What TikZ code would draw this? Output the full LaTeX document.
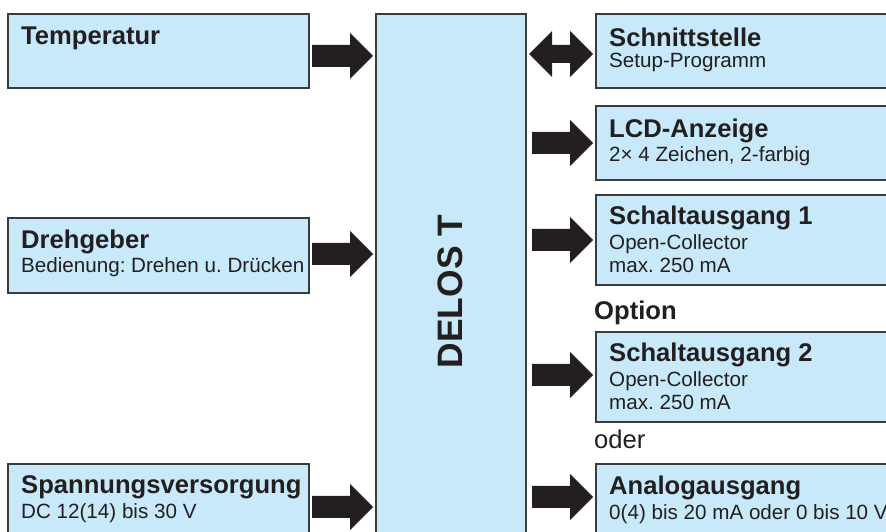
\documentclass[tikz,border=0pt]{standalone}
\usepackage{fontspec}
\setmainfont{Liberation Sans}
\usetikzlibrary{positioning}

\definecolor{boxfill}{RGB}{199,233,249}
\definecolor{boxline}{RGB}{60,60,60}
\definecolor{inkdark}{RGB}{35,31,32}

\tikzset{
  unitbox/.style={draw=boxline,fill=boxfill,line width=1.2bp,inner sep=0pt,outer sep=0pt},
  boxtitle/.style={anchor=base west,inner sep=0pt,text=inkdark,font=\bfseries\fontsize{25.7}{29}\selectfont},
  boxsub/.style={anchor=base west,inner sep=0pt,text=inkdark,font=\fontsize{20.7}{24}\selectfont},
  blockarrow/.style={fill=inkdark},
}

% fat block arrow from #1 to tip #2
\newcommand{\fatarrow}[2]{%
  \fill[blockarrow] ([yshift=11bp]#1) -- ([shift={(-23bp,11bp)}]#2) -- ([shift={(-23bp,23bp)}]#2) -- (#2)
    -- ([shift={(-23bp,-23bp)}]#2) -- ([shift={(-23bp,-11bp)}]#2) -- ([yshift=-11bp]#1) -- cycle;}
% fat block arrow with tips at #1 and #2
\newcommand{\fatdblarrow}[2]{%
  \fill[blockarrow] (#1) -- ([shift={(23bp,23bp)}]#1) -- ([shift={(23bp,9bp)}]#1) -- ([shift={(-23bp,9bp)}]#2)
    -- ([shift={(-23bp,23bp)}]#2) -- (#2) -- ([shift={(-23bp,-23bp)}]#2) -- ([shift={(-23bp,-9bp)}]#2)
    -- ([shift={(23bp,-9bp)}]#1) -- ([shift={(23bp,-23bp)}]#1) -- cycle;}

\begin{document}
\frenchspacing
\begin{tikzpicture}
\useasboundingbox (0bp,0bp) rectangle (886bp,532bp);
\clip (0bp,0bp) rectangle (886bp,532bp);
%% boxes
\node (temp) at (158.5bp,481bp) [unitbox,minimum width=301bp,minimum height=74bp] {};
  \node (dreh) at (158.5bp,276.5bp) [unitbox,minimum width=301bp,minimum height=75bp] {};
  \node (spann) at (158.5bp,27bp) [unitbox,minimum width=301bp,minimum height=82bp] {};
  \node (delos) at (451bp,252.5bp) [unitbox,minimum width=150bp,minimum height=531bp] {};
  \node (schnitt) at (751bp,481bp) [unitbox,minimum width=310bp,minimum height=74bp] {};
  \node (lcd) at (751bp,389bp) [unitbox,minimum width=310bp,minimum height=74bp] {};
  \node (schalt1) at (751bp,292bp) [unitbox,minimum width=310bp,minimum height=90bp] {};
  \node (schalt2) at (751bp,155bp) [unitbox,minimum width=310bp,minimum height=90bp] {};
  \node (analog) at (751bp,27bp) [unitbox,minimum width=310bp,minimum height=82bp] {};
%% texts
\node (temp_t) at ([shift={(13bp,-31bp)}]temp.north west) [boxtitle] {Temperatur};
  \node (dreh_t) at ([shift={(13bp,-31bp)}]dreh.north west) [boxtitle] {Drehgeber};
  \node (dreh_s) at ([yshift=-24bp]dreh_t.base west) [boxsub] {Bedienung: Drehen u. Drücken};
  \node (spann_t) at ([shift={(13bp,-29bp)}]spann.north west) [boxtitle] {Spannungsversorgung};
  \node (spann_s) at ([yshift=-25bp]spann_t.base west) [boxsub] {DC 12(14) bis 30 V};
  \node (delos_t) at (450bp,240.5bp) [rotate=90,inner sep=0pt,text=inkdark,font=\bfseries\fontsize{35.5}{40}\selectfont] {DELOS T};
  \node (schnitt_t) at ([shift={(13bp,-33bp)}]schnitt.north west) [boxtitle] {Schnittstelle};
  \node (schnitt_s) at ([yshift=-21bp]schnitt_t.base west) [boxsub] {Setup-Programm};
  \node (lcd_t) at ([shift={(13bp,-32bp)}]lcd.north west) [boxtitle] {LCD-Anzeige};
  \node (lcd_s) at ([yshift=-24bp]lcd_t.base west) [boxsub] {2× 4 Zeichen, 2-farbig};
  \node (schalt1_t) at ([shift={(13bp,-30bp)}]schalt1.north west) [boxtitle] {Schaltausgang 1};
  \node (schalt1_s) at ([yshift=-25bp]schalt1_t.base west) [boxsub] {Open-Collector};
  \node (schalt1_u) at ([yshift=-23bp]schalt1_s.base west) [boxsub] {max. 250 mA};
  \node (option) at ([shift={(-2bp,12bp)}]schalt2.north west) [boxtitle] {Option};
  \node (schalt2_t) at ([shift={(13bp,-30bp)}]schalt2.north west) [boxtitle] {Schaltausgang 2};
  \node (schalt2_s) at ([yshift=-25bp]schalt2_t.base west) [boxsub] {Open-Collector};
  \node (schalt2_u) at ([yshift=-23bp]schalt2_s.base west) [boxsub] {max. 250 mA};
  \node (oder) at ([shift={(-2bp,15bp)}]analog.north west) [boxsub,font=\fontsize{25.7}{29}\selectfont] {oder};
  \node (analog_t) at ([shift={(13bp,-30bp)}]analog.north west) [boxtitle] {Analogausgang};
  \node (analog_s) at ([yshift=-25bp]analog_t.base west) [boxsub] {0(4) bis 20 mA oder 0 bis 10 V};
%% arrows
\coordinate (temp_a) at ([shift={(3bp,-5bp)}]temp.east);
  \coordinate (temp_b) at ([xshift=-3bp]temp_a -| delos.west);
  \coordinate (dreh_a) at ([shift={(3bp,1.5bp)}]dreh.east);
  \coordinate (dreh_b) at ([xshift=-3bp]dreh_a -| delos.west);
  \coordinate (spann_a) at ([xshift=3bp]spann.east |- 0,25bp);
  \coordinate (spann_b) at ([xshift=-3bp]spann_a -| delos.west);
  \coordinate (schnitt_a) at ([shift={(3bp,-3bp)}]delos.east |- schnitt.center);
  \coordinate (schnitt_b) at ([xshift=-3bp]schnitt_a -| schnitt.west);
  \coordinate (lcd_a) at ([xshift=6bp]delos.east |- lcd.center);
  \coordinate (lcd_b) at ([xshift=-3bp]lcd_a -| lcd.west);
  \coordinate (schalt1_a) at ([xshift=6bp]delos.east |- schalt1.center);
  \coordinate (schalt1_b) at ([xshift=-3bp]schalt1_a -| schalt1.west);
  \coordinate (schalt2_a) at ([shift={(6bp,2bp)}]delos.east |- schalt2.center);
  \coordinate (schalt2_b) at ([xshift=-3bp]schalt2_a -| schalt2.west);
  \coordinate (analog_a) at ([xshift=6bp]delos.east |- 0,35bp);
  \coordinate (analog_b) at ([xshift=-3bp]analog_a -| analog.west);
\fatarrow{temp_a}{temp_b}
  \fatarrow{dreh_a}{dreh_b}
  \fatarrow{spann_a}{spann_b}
  \fatdblarrow{schnitt_a}{schnitt_b}
  \fatarrow{lcd_a}{lcd_b}
  \fatarrow{schalt1_a}{schalt1_b}
  \fatarrow{schalt2_a}{schalt2_b}
  \fatarrow{analog_a}{analog_b}
%
\end{tikzpicture}
\end{document}
